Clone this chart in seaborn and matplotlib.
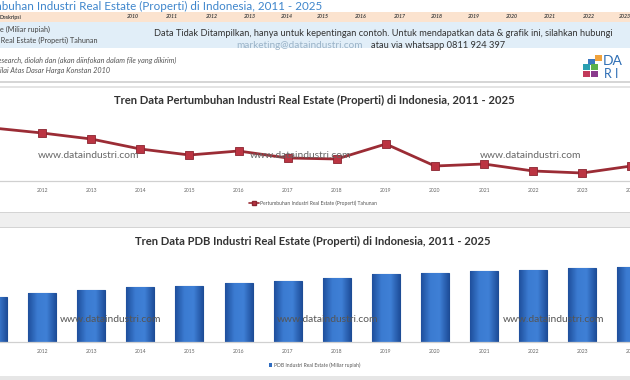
import numpy as np
import pandas as pd
import matplotlib.pyplot as plt
import seaborn as sns
from matplotlib.patches import Rectangle, Patch
from matplotlib.lines import Line2D
from matplotlib.colors import LinearSegmentedColormap

# data (no y axis shown, so values are estimates)
years = [2011, 2012, 2013, 2014, 2015, 2016, 2017, 2018, 2019, 2020, 2021, 2022, 2023, 2024, 2025]
growth = [7.7, 7.2, 6.6, 5.6, 5.0, 5.4, 4.7, 4.6, 6.1, 3.9, 4.1, 3.4, 3.2, 3.9, 4.5]
pdb = [241000, 262000, 279000, 295000, 300000, 316000, 327000, 343000, 364000,
       370000, 380000, 386000, 396000, 402000, 410000]
header_years = [2010, 2011, 2012, 2013, 2014, 2015, 2016, 2017, 2018, 2019, 2020, 2021, 2022, 2023]
header_year_x = [133, 172, 212, 250, 287, 323, 361, 400, 437, 474, 512, 550, 589, 625]
# 2011 and 2025 sit outside the cropped view
tick_labels = [''] + [str(y) for y in years[1:-1]] + ['']

sns.set_theme(style="white")
plt.rcParams['font.family'] = ['Lato', 'DejaVu Sans']

W, H = 630, 380
fig = plt.figure(figsize=(6.3, 3.8), dpi=100)
fig.patch.set_facecolor('white')


def fx(x):
    return x / W


def fy(y):
    return 1 - y / H


def box(x0, y0, x1, y1, **kw):
    fig.add_artist(Rectangle((fx(x0), fy(y1)), fx(x1) - fx(x0), fy(y0) - fy(y1),
                             transform=fig.transFigure, **kw))


def txt(x, y, s, **kw):
    fig.text(fx(x), fy(y), s, **kw)


# ---- header area ----
box(0, 12, 630, 22, facecolor='#fbe3cf', edgecolor='none')
box(0, 22, 630, 48, facecolor='#e1eef8', edgecolor='none')
txt(322, 6, 'Pertumbuhan Industri Real Estate (Properti) di Indonesia, 2011 - 2025',
    ha='right', va='center', fontsize=8.4, color='#3f86cc')
txt(22, 17, 'Deskripsi', ha='right', va='center', fontsize=3.8, fontweight='bold', color='#444')
for yr, xx in zip(header_years, header_year_x):
    txt(xx, 17, str(yr), ha='center', va='center', fontsize=3.8, fontweight='bold',
        style='italic', color='#444')
txt(50, 29, 'PDB Industri Real Estate (Miliar rupiah)', ha='right', va='center',
    fontsize=5.2, color='#444')
txt(97, 40, 'Pertumbuhan Industri Real Estate (Properti) Tahunan', ha='right', va='center',
    fontsize=5.2, color='#444')
txt(383, 34, 'Data Tidak Ditampilkan, hanya untuk kepentingan contoh. Untuk mendapatkan data & grafik ini, silahkan hubungi',
    ha='center', va='center', fontsize=6.7, color='#333')
txt(236, 45, 'marketing@dataindustri.com', ha='left', va='center', fontsize=7.2, color='#9ab3c8')
txt(371, 45, 'atau via whatsapp 0811 924 397', ha='left', va='center', fontsize=6.7, color='#333')
txt(176, 60, 'Sumber: Data Research, diolah dan (akan diinfokan dalam file yang dikirim)',
    ha='right', va='center', fontsize=5.2, style='italic', color='#555')
txt(110, 70, '*Nilai Atas Dasar Harga Konstan 2010', ha='right', va='center',
    fontsize=5.2, style='italic', color='#555')

# logo
for (x0, y0, c) in [(595, 55, '#f0a23c'), (588, 59, '#3a78c0'), (583, 64, '#2a9fb0'),
                    (591, 64, '#5bb04a'), (583, 71, '#c23a5a'), (591, 71, '#8a3a8c')]:
    box(x0, y0, x0 + 7, y0 + 6, facecolor=c, edgecolor='none')
txt(603, 61, 'DA', ha='left', va='center', fontsize=10, color='#2f6fb5')
txt(604, 74, 'R I', ha='left', va='center', fontsize=9, color='#2f6fb5')

# ---- panel frames ----
box(0, 81, 630, 83, facecolor='#d6d6d6', edgecolor='none')
box(0, 86, 630, 88, facecolor='#e4e4e4', edgecolor='none')
box(0, 212, 630, 228, facecolor='#efefef', edgecolor='none')
box(0, 212, 630, 213, facecolor='#d4d4d4', edgecolor='none')
box(0, 227, 630, 228, facecolor='#d4d4d4', edgecolor='none')
box(0, 376, 630, 380, facecolor='#e6e6e6', edgecolor='none')

# ---- line chart ----
ax1 = fig.add_axes([fx(-31.5), fy(181), 736.5 / W, 71 / H])
ax1.patch.set_alpha(0)
sns.lineplot(x=years, y=growth, ax=ax1, color='#9b2c35', linewidth=2.0, marker='s',
             markersize=6, markerfacecolor='#bb3442', markeredgecolor='#8a2430',
             markeredgewidth=0.6)
ax1.set_xlim(2010.5, 2025.5)
ax1.set_ylim(2.4, 9.5)
ax1.set_xticks(years)
ax1.set_xticklabels(tick_labels, fontsize=3.6, color='#666')
ax1.set_yticks([])
ax1.set_xlabel('')
ax1.tick_params(axis='x', length=0, pad=5)
for s in ['top', 'left', 'right']:
    ax1.spines[s].set_visible(False)
ax1.spines['bottom'].set_color('#d0d0d0')
ax1.spines['bottom'].set_linewidth(0.9)
h1 = Line2D([], [], color='#9b2c35', lw=1.2, marker='s', markersize=2.5,
            markerfacecolor='#bb3442', markeredgecolor='#8a2430')
fig.legend([h1], ['Pertumbuhan Industri Real Estate (Properti) Tahunan'],
           loc='center', bbox_to_anchor=(fx(313), fy(203)), frameon=False,
           fontsize=3.6, handlelength=2, handletextpad=0.3, labelcolor='#555')
txt(314, 100, 'Tren Data Pertumbuhan Industri Real Estate (Properti) di Indonesia, 2011 - 2025',
    ha='center', va='center', fontsize=8.1, fontweight='bold', color='#333')
for x0 in [38, 250, 480]:
    txt(x0, 156, 'www.dataindustri.com', ha='left', va='center', fontsize=7.4, color='#666')

# ---- bar chart ----
ax2 = fig.add_axes([fx(-31.5), fy(342), 736.5 / W, 86 / H])
ax2.patch.set_alpha(0)
df = pd.DataFrame({'year': [str(y) for y in years], 'pdb': pdb})
sns.barplot(data=df, x='year', y='pdb', ax=ax2, color='#2f6cc0', saturation=1,
            width=0.57, edgecolor='#1d4c95', linewidth=0.8)
# horizontal shading inside each bar (darker edges, lighter middle)
shade = LinearSegmentedColormap.from_list('shade', ['#1f4f9c', '#3b7bd1', '#3f80d6', '#1f4f9c'])
grad = np.linspace(0, 1, 64).reshape(1, -1)
for bar in ax2.patches:
    x0, y0 = bar.get_x(), bar.get_y()
    im = ax2.imshow(grad, cmap=shade, aspect='auto', interpolation='bicubic',
                    extent=[x0, x0 + bar.get_width(), y0, y0 + bar.get_height()], zorder=2)
    im.set_clip_path(bar)
ax2.set_xlim(-0.5, 14.5)
ax2.set_ylim(0, 460000)
ax2.set_yticks([])
ax2.set_xticks(range(len(years)))
ax2.set_xticklabels(tick_labels)
ax2.set_xlabel('')
ax2.set_ylabel('')
ax2.tick_params(axis='x', length=0, pad=5, labelsize=3.6, labelcolor='#666')
for s in ['top', 'left', 'right']:
    ax2.spines[s].set_visible(False)
ax2.spines['bottom'].set_color('#d0d0d0')
ax2.spines['bottom'].set_linewidth(0.9)
h2 = Patch(facecolor='#2f6cc0', edgecolor='none')
fig.legend([h2], ['PDB Industri Real Estate (Miliar rupiah)'],
           loc='center', bbox_to_anchor=(fx(315), fy(365)), frameon=False,
           fontsize=3.6, handlelength=0.6, handleheight=0.6, handletextpad=0.4,
           labelcolor='#555')
txt(313, 241, 'Tren Data PDB Industri Real Estate (Properti) di Indonesia, 2011 - 2025',
    ha='center', va='center', fontsize=8.1, fontweight='bold', color='#333')
for x0 in [60, 277, 503]:
    txt(x0, 320, 'www.dataindustri.com', ha='left', va='center', fontsize=7.4,
        color='#555', zorder=10)

fig.savefig('out.png', dpi=100)
